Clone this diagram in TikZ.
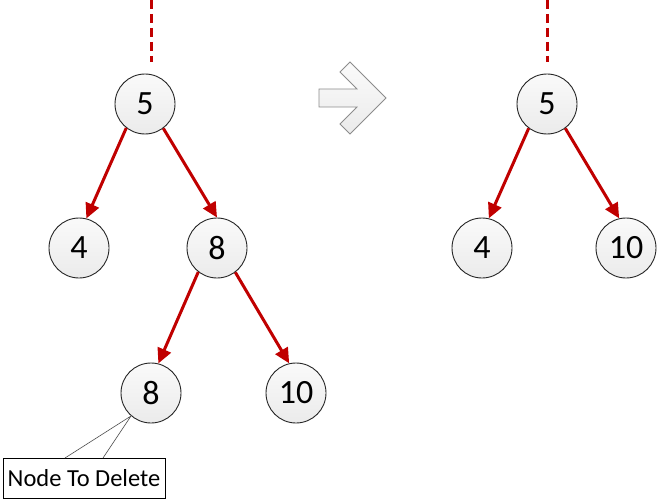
\documentclass[tikz,border=0pt]{standalone}
\usepackage{fontspec}
\setmainfont{Carlito}
\usetikzlibrary{arrows.meta}
\definecolor{edgered}{HTML}{C00000}
\definecolor{circbot}{HTML}{EBEBEB}
\definecolor{circtop}{HTML}{FAFAFA}
\definecolor{arrowgray}{HTML}{8C8C8C}
\tikzset{
  tnode/.style={circle, draw=black!85, line width=0.9pt, minimum size=60pt, inner sep=0pt,
    top color=circtop, bottom color=circbot,
    font=\fontsize{34}{34}\selectfont},
  tedge/.style={draw=edgered, line width=3pt, -{Triangle[length=15pt,width=14pt]}},
  tdash/.style={draw=edgered, line width=3pt, dash pattern=on 9pt off 5pt},
  callbox/.style={draw=black, line width=0.8pt, minimum width=162pt, minimum height=40pt, inner sep=0pt,
    font=\fontsize{24.5}{25}\selectfont, fill=white},
  callline/.style={draw=black!70, line width=0.6pt},
  bigarrow/.style={draw=arrowgray, line width=0.8pt, line join=miter, top color=circtop, bottom color=circbot}
}
\begin{document}
\begin{tikzpicture}[x=1pt,y=-1pt]
\useasboundingbox (0,0) rectangle (658,500);
% left tree
\node[tnode] (L5) at (145,104) {5};
\node[tnode] (L4) at (79,248) {4};
\node[tnode] (L8) at (217,248) {8};
\node[tnode] (B8) at (151,393) {8};
\node[tnode] (B10) at (296,393) {10};
\coordinate (Ltop) at (151,0);
\coordinate (Lbot) at (151,62);
\draw[tdash] (Ltop) -- (Lbot);
\draw[tedge] (L5.232) -- (L4.76);
\draw[tedge] (L5.307) -- (L8.90);
\draw[tedge] (L8.232) -- (B8.76);
\draw[tedge] (L8.307) -- (B10.103);
% callout
\node[callbox] (del) at (84,478) {Node To Delete};
\coordinate (ct) at (B8.229);
\coordinate (c1) at (65,458);
\coordinate (c2) at (103,458);
\draw[callline] (c1) -- (ct) -- (c2);
% big arrow
\path[bigarrow] (319,89) -- (357,89) -- (340,72) -- (350,62) -- (386,98) -- (350,134) -- (340,124) -- (357,107) -- (319,107) -- cycle;
% right tree
\node[tnode] (R5) at (547,104) {5};
\node[tnode] (R4) at (482,248) {4};
\node[tnode] (R10) at (626,248) {10};
\coordinate (Rtop) at (547,0);
\coordinate (Rbot) at (547,62);
\draw[tdash] (Rtop) -- (Rbot);
\draw[tedge] (R5.233) -- (R4.77);
\draw[tedge] (R5.307) -- (R10.103);
\end{tikzpicture}
\end{document}
